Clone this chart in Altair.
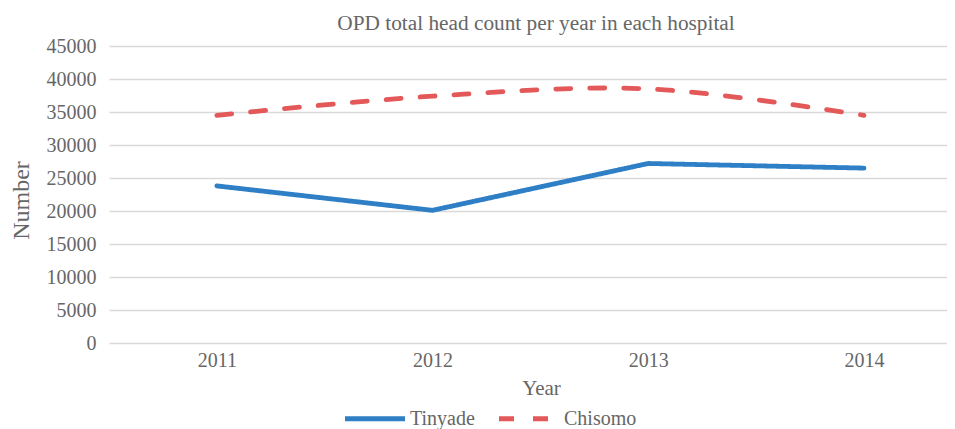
import altair as alt
import pandas as pd

years = [2011, 2012, 2013, 2014]
tinyade = [23800, 20100, 27200, 26500]
chisomo = [34500, 37400, 38500, 34500]
series = ["Tinyade", "Chisomo"]
y_ticks = [0, 5000, 10000, 15000, 20000, 25000, 30000, 35000, 40000, 45000]

BLUE = "#2E7FC6"
RED = "#E35858"
TEXT = "#666666"
FONT = "Liberation Serif"

rows = []
for name, vals in zip(series, [tinyade, chisomo]):
    for yr, v in zip(years, vals):
        rows.append({"Year": yr, "Number": v, "Hospital": name})
df = pd.DataFrame(rows)

legend = alt.Legend(
    title=None, orient="none", legendX=233.5, legendY=340, direction="horizontal",
    symbolType="stroke", symbolSize=3600, symbolStrokeWidth=5,
    labelFontSize=20, labelFont=FONT, labelColor=TEXT, labelOffset=2.5,
    columnPadding=13, padding=0,
)

x = alt.X("Year:Q",
          scale=alt.Scale(domain=[2010.5, 2014.385], nice=False, zero=False),
          axis=alt.Axis(values=years, format="d", grid=False, ticks=False, domain=False,
                        labelPadding=7, labelFontSize=20, labelFont=FONT, labelColor=TEXT,
                        title="Year", titleFontSize=21, titleFont=FONT, titleColor=TEXT,
                        titleFontWeight="normal", titlePadding=7, titleX=432))
y = alt.Y("Number:Q",
          scale=alt.Scale(domain=[0, 45000], nice=False),
          axis=alt.Axis(values=y_ticks, format="d", grid=True, gridColor="#d9d9d9", gridWidth=1.3,
                        ticks=False, domain=False, labelPadding=13,
                        labelFontSize=20, labelFont=FONT, labelColor=TEXT,
                        title="Number", titleFontSize=24, titleFont=FONT, titleColor=TEXT,
                        titleFontWeight="normal", titleX=-88, titleY=154,
                        titleAngle=-90, titleAlign="center", titleBaseline="middle"))
color = alt.Color("Hospital:N", scale=alt.Scale(domain=series, range=[BLUE, RED]), legend=legend)
dash = alt.StrokeDash("Hospital:N", scale=alt.Scale(domain=series, range=[[1, 0], [15, 19]]), legend=legend)

base = alt.Chart(df).encode(x=x, y=y, color=color, strokeDash=dash)

blue_line = base.transform_filter(alt.datum.Hospital == "Tinyade").mark_line(
    strokeWidth=4.8, strokeCap="round", strokeJoin="round")
red_line = base.transform_filter(alt.datum.Hospital == "Chisomo").mark_line(
    strokeWidth=4.8, strokeCap="round", interpolate="cardinal")

chart = alt.layer(blue_line, red_line).properties(
    width=838, height=297,
    autosize=alt.AutoSizeParams(type="none"),
    padding={"left": 101, "top": 38, "right": 0, "bottom": 86},
    title=alt.TitleParams("OPD total head count per year in each hospital",
                          fontSize=21.3, font=FONT, color=TEXT, fontWeight="normal",
                          anchor="middle", dx=8, offset=2),
).configure_view(stroke=None)

chart.save("out.html", embed_options={"renderer": "svg", "actions": False})
